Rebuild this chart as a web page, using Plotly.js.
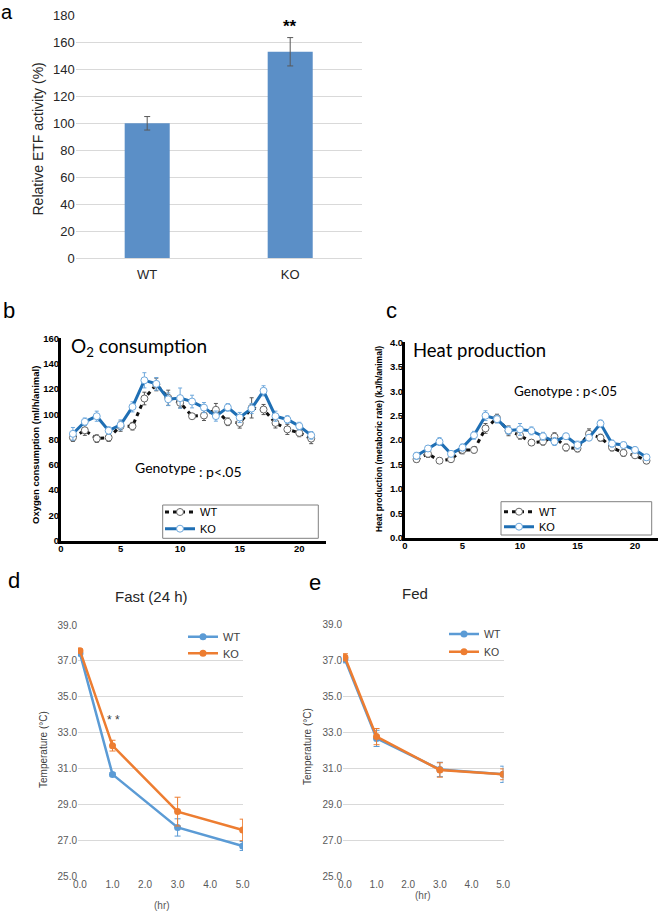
<!DOCTYPE html>
<html>
<head>
<meta charset="utf-8">
<script src="https://cdn.plot.ly/plotly-3.0.1.min.js"></script>
<style>html,body{margin:0;padding:0;background:#fff;}#chart{width:660px;height:912px;}</style>
</head>
<body>
<div id="chart"></div>
<script>
// ---- Panel a data ----
const aCategories = ['WT', 'KO'];
const aValues = [100, 153];
const aErrors = [5, 10.5];

// ---- Panels b & c data (hour index) ----
const hours = [1,2,3,4,5,6,7,8,9,10,11,12,13,14,15,16,17,18,19,20,21];
const bWT = [81.5,87.3,80.7,81.5,90.5,90.5,112.4,123.5,113,109,98.4,99,103.5,94,93,105,103.7,93.1,88,85.2,80.7];
const bWTerr = [3,4,3,3,4,3,5,5,6,4,2,4,5,3,4,8,4,4,4,3,4];
const bKO = [84.5,94,98.4,87,91.5,105.8,126.8,124,111.8,112.7,110,105.2,98.5,105.4,97.4,104.5,118.5,98.4,95.8,90.6,83.3];
const bKOerr = [5,3,4,3,4,4,6,5,5,8,5,4,4,3,4,4,4,4,3,3,3];
const cWT = [1.61,1.72,1.58,1.61,1.80,1.80,2.24,2.45,2.19,2.10,1.95,1.97,2.07,1.85,1.83,2.13,2.05,1.85,1.74,1.69,1.58];
const cWTerr = [0.06,0.07,0.05,0.06,0.08,0.06,0.1,0.08,0.1,0.08,0.06,0.07,0.08,0.07,0.07,0.1,0.07,0.07,0.07,0.05,0.06];
const cKO = [1.68,1.83,1.97,1.72,1.85,2.10,2.50,2.43,2.20,2.22,2.19,2.08,1.97,2.08,1.90,2.05,2.34,1.93,1.90,1.80,1.65];
const cKOerr = [0.07,0.06,0.08,0.06,0.07,0.08,0.1,0.08,0.08,0.12,0.08,0.08,0.08,0.06,0.08,0.06,0.07,0.07,0.06,0.06,0.06];

// ---- Panels d & e data ----
const tHours = [0, 1, 3, 5];
const dWT = [37.42, 30.69, 27.74, 26.71];
const dWTerr = [0.1, 0.1, 0.48, 0.25];
const dKO = [37.57, 32.29, 28.62, 27.6];
const dKOerr = [0.1, 0.3, 0.8, 0.6];
const eWT = [37.06, 32.67, 30.95, 30.68];
const eWTerr = [0.2, 0.45, 0.4, 0.45];
const eKO = [37.17, 32.77, 30.92, 30.68];
const eKOerr = [0.2, 0.45, 0.4, 0.3];

const tempTicks = [25, 27, 29, 31, 33, 35, 37, 39];
const hourTicks = [0, 1, 2, 3, 4, 5];

const W = 660, H = 912;
const X = p => p / W;
const Y = p => 1 - p / H;

const blueXL = '#5b9bd5', orangeXL = '#ed7d31';
const koBlue = '#1f6fb4', koLight = '#6ea8dc';
const arial = 'Liberation Sans, Arial, sans-serif';
const narrow = 'Liberation Sans Narrow, Liberation Sans, Arial, sans-serif';
const lato = 'Lato, Carlito, Open Sans, sans-serif';

const traces = [
  // a
  {type: 'bar', x: aCategories, y: aValues, xaxis: 'x', yaxis: 'y',
   marker: {color: '#5b8fc7'}, showlegend: false, hoverinfo: 'skip',
   error_y: {type: 'data', array: aErrors, visible: true, color: '#595959', thickness: 1, width: 3}},
  // b
  {type: 'scatter', mode: 'lines+markers', name: 'WT', x: hours, y: bWT, xaxis: 'x2', yaxis: 'y2', legend: 'legend',
   line: {color: '#111', width: 3, dash: '4px,4px'},
   marker: {symbol: 'circle', size: 7, color: '#fff', line: {color: '#666', width: 1}},
   error_y: {type: 'data', array: bWTerr, visible: true, color: '#555', thickness: 1, width: 2}},
  {type: 'scatter', mode: 'lines+markers', name: 'KO', x: hours, y: bKO, xaxis: 'x2', yaxis: 'y2', legend: 'legend5',
   line: {color: koBlue, width: 3},
   marker: {symbol: 'circle', size: 7, color: '#fff', line: {color: koLight, width: 1}},
   error_y: {type: 'data', array: bKOerr, visible: true, color: koLight, thickness: 1, width: 2}},
  // c
  {type: 'scatter', mode: 'lines+markers', name: 'WT', x: hours, y: cWT, xaxis: 'x3', yaxis: 'y3', legend: 'legend2',
   line: {color: '#111', width: 3, dash: '4px,4px'},
   marker: {symbol: 'circle', size: 7, color: '#fff', line: {color: '#666', width: 1}},
   error_y: {type: 'data', array: cWTerr, visible: true, color: '#555', thickness: 1, width: 2}},
  {type: 'scatter', mode: 'lines+markers', name: 'KO', x: hours, y: cKO, xaxis: 'x3', yaxis: 'y3', legend: 'legend6',
   line: {color: koBlue, width: 3},
   marker: {symbol: 'circle', size: 7, color: '#fff', line: {color: koLight, width: 1}},
   error_y: {type: 'data', array: cKOerr, visible: true, color: koLight, thickness: 1, width: 2}},
  // d
  {type: 'scatter', mode: 'lines+markers', name: 'WT', x: tHours, y: dWT, xaxis: 'x4', yaxis: 'y4', legend: 'legend3',
   line: {color: blueXL, width: 2.5}, marker: {size: 7, color: blueXL},
   error_y: {type: 'data', array: dWTerr, visible: true, color: blueXL, thickness: 1, width: 3}},
  {type: 'scatter', mode: 'lines+markers', name: 'KO', x: tHours, y: dKO, xaxis: 'x4', yaxis: 'y4', legend: 'legend7',
   line: {color: orangeXL, width: 2.5}, marker: {size: 7, color: orangeXL},
   error_y: {type: 'data', array: dKOerr, visible: true, color: orangeXL, thickness: 1, width: 3}},
  // e
  {type: 'scatter', mode: 'lines+markers', name: 'WT', x: tHours, y: eWT, xaxis: 'x5', yaxis: 'y5', legend: 'legend4',
   line: {color: blueXL, width: 2.5}, marker: {size: 7, color: blueXL},
   error_y: {type: 'data', array: eWTerr, visible: true, color: blueXL, thickness: 1, width: 3}},
  {type: 'scatter', mode: 'lines+markers', name: 'KO', x: tHours, y: eKO, xaxis: 'x5', yaxis: 'y5', legend: 'legend8',
   line: {color: orangeXL, width: 2.5}, marker: {size: 7, color: orangeXL},
   error_y: {type: 'data', array: eKOerr, visible: true, color: orangeXL, thickness: 1, width: 3}}
];

const boldTick = {family: arial, size: 9.5, color: '#000', weight: 'bold'};
const xlTick = {family: arial, size: 10, color: '#595959'};

function leg(xpx, ypx, size, color) {
  return {x: X(xpx), y: Y(ypx), xanchor: 'left', yanchor: 'middle', bgcolor: 'rgba(0,0,0,0)',
          font: {family: arial, size: size, color: color}, itemwidth: 30, tracegroupgap: 0};
}

const layout = {
  width: W, height: H,
  margin: {l: 0, r: 0, t: 0, b: 0},
  paper_bgcolor: '#fff', plot_bgcolor: 'rgba(0,0,0,0)',
  bargap: 0.685,
  showlegend: true,
  // a
  xaxis: {domain: [X(75.7), X(361.7)], anchor: 'y', type: 'category', showgrid: false, zeroline: false,
          showline: true, linecolor: '#d9d9d9', linewidth: 1, ticks: '', ticklabelstandoff: 4,
          tickfont: {family: narrow, size: 13, color: '#262626'}},
  yaxis: {domain: [Y(258.3), Y(15.3)], anchor: 'x', range: [0, 180], dtick: 20, showgrid: true,
          gridcolor: '#d9d9d9', gridwidth: 1, zeroline: false, showline: false, ticks: '',
          tickfont: {family: narrow, size: 13, color: '#262626'}},
  // b
  xaxis2: {domain: [X(61), X(325.5)], anchor: 'y2', range: [0, 22.2], tickvals: [0, 5, 10, 15, 20],
           showgrid: false, zeroline: false, showline: true, linecolor: '#000', linewidth: 3, ticks: '',
           tickfont: boldTick, ticklabelstandoff: -3},
  yaxis2: {domain: [Y(540.7), Y(338.3)], anchor: 'x2', range: [0, 160], dtick: 20, showgrid: false,
           zeroline: false, showline: true, linecolor: '#000', linewidth: 3, ticks: '', tickfont: boldTick,
           ticklabelstandoff: -3},
  // c
  xaxis3: {domain: [X(405), X(658)], anchor: 'y3', range: [0, 22], tickvals: [0, 5, 10, 15, 20],
           showgrid: false, zeroline: false, showline: true, linecolor: '#000', linewidth: 3, ticks: '',
           tickfont: boldTick, ticklabelstandoff: -3},
  yaxis3: {domain: [Y(538), Y(342.3)], anchor: 'x3', range: [0, 4], dtick: 0.5, tickformat: '.1f', showgrid: false,
           zeroline: false, showline: true, linecolor: '#000', linewidth: 3, ticks: '', tickfont: boldTick,
           ticklabelstandoff: -3},
  // d
  xaxis4: {domain: [X(78), X(243)], anchor: 'y4', range: [-0.06, 5.01], tickvals: hourTicks, tickformat: '.1f',
           showgrid: false, zeroline: false, showline: false, ticks: '', tickfont: xlTick},
  yaxis4: {domain: [Y(876.7), Y(625)], anchor: 'x4', range: [25, 39], tickvals: tempTicks, tickformat: '.1f',
           showgrid: true, gridcolor: '#d9d9d9', zeroline: false, showline: false, ticks: '', tickfont: xlTick},
  // e
  xaxis5: {domain: [X(343), X(503.5)], anchor: 'y5', range: [-0.06, 5.01], tickvals: hourTicks, tickformat: '.1f',
           showgrid: false, zeroline: false, showline: false, ticks: '', tickfont: xlTick},
  yaxis5: {domain: [Y(876.7), Y(624.3)], anchor: 'x5', range: [25, 39], tickvals: tempTicks, tickformat: '.1f',
           showgrid: true, gridcolor: '#d9d9d9', zeroline: false, showline: false, ticks: '', tickfont: xlTick},
  legend:  leg(160, 512, 11, '#000'),
  legend5: leg(160, 528.7, 11, '#000'),
  legend2: leg(499, 511.7, 11, '#000'),
  legend6: leg(499, 526.7, 11, '#000'),
  legend3: leg(183, 636.7, 11, '#404040'),
  legend7: leg(183, 653.3, 11, '#404040'),
  legend4: leg(444, 634, 10.5, '#404040'),
  legend8: leg(444, 651.7, 10.5, '#404040'),
  shapes: [
    {type: 'rect', xref: 'paper', yref: 'paper', x0: X(162.7), x1: X(318.3), y0: Y(538.3), y1: Y(505),
     line: {color: '#808080', width: 1}, layer: 'below'},
    {type: 'rect', xref: 'paper', yref: 'paper', x0: X(501), x1: X(651.7), y0: Y(535), y1: Y(501.7),
     line: {color: '#808080', width: 1}, layer: 'below'}
  ],
  annotations: [
    // panel letters
    {text: 'a', x: X(0), y: Y(0), xanchor: 'left', yanchor: 'top', borderpad: 0, font: {family: arial, size: 20, color: '#000'}},
    {text: 'b', x: X(1), y: Y(310), xanchor: 'left', yanchor: 'middle', font: {family: arial, size: 22, color: '#000'}},
    {text: 'c', x: X(384), y: Y(311), xanchor: 'left', yanchor: 'middle', font: {family: arial, size: 22, color: '#000'}},
    {text: 'd', x: X(6), y: Y(580), xanchor: 'left', yanchor: 'middle', font: {family: arial, size: 22, color: '#000'}},
    {text: 'e', x: X(307), y: Y(582), xanchor: 'left', yanchor: 'middle', font: {family: arial, size: 22, color: '#000'}},
    // a
    {text: 'Relative ETF activity (%)', x: X(37.5), y: Y(139), textangle: -90, xanchor: 'center', yanchor: 'middle',
     font: {family: arial, size: 14, color: '#262626'}},
    {text: '**', x: X(290), y: Y(27), xanchor: 'center', yanchor: 'middle', font: {family: arial, size: 17, color: '#000', weight: 'bold'}},
    // b
    {text: 'O<sub>2</sub> consumption', x: X(69), y: Y(347), xanchor: 'left', yanchor: 'middle', font: {family: lato, size: 19, color: '#000'}},
    {text: 'Genotype', x: X(132.5), y: Y(467.5), xanchor: 'left', yanchor: 'middle', font: {family: lato, size: 14, color: '#000'}},
    {text: ': p<.05', x: X(197), y: Y(471.5), xanchor: 'left', yanchor: 'middle', font: {family: lato, size: 14, color: '#000'}},
    {text: 'Oxygen consumption (ml/h/animal)', x: X(35), y: Y(445), textangle: -90, xanchor: 'center', yanchor: 'middle',
     font: {family: arial, size: 9.5, color: '#000', weight: 'bold'}},
    // c
    {text: 'Heat production', x: X(411), y: Y(350), xanchor: 'left', yanchor: 'middle', font: {family: lato, size: 18.5, color: '#000'}},
    {text: 'Genotype : p<.05', x: X(512), y: Y(391), xanchor: 'left', yanchor: 'middle', font: {family: lato, size: 13.5, color: '#000'}},
    {text: 'Heat production (metaboric rate) (kJ/h/animal)', x: X(379), y: Y(439), textangle: -90, xanchor: 'center', yanchor: 'middle',
     font: {family: arial, size: 8.5, color: '#000', weight: 'bold'}},
    // d
    {text: 'Fast (24 h)', x: X(151.7), y: Y(596), xanchor: 'center', yanchor: 'middle', font: {family: arial, size: 15, color: '#262626'}},
    {text: '(hr)', x: X(161.7), y: Y(905), xanchor: 'center', yanchor: 'middle', font: {family: arial, size: 10, color: '#595959'}},
    {text: 'Temperature (°C)', x: X(43), y: Y(750), textangle: -90, xanchor: 'center', yanchor: 'middle', font: {family: arial, size: 10, color: '#404040'}},
    {text: '* *', x: X(113), y: Y(720), xanchor: 'center', yanchor: 'middle', font: {family: arial, size: 12, color: '#404040'}},
    // e
    {text: 'Fed', x: X(414.5), y: Y(593), xanchor: 'center', yanchor: 'middle', font: {family: arial, size: 15, color: '#262626'}},
    {text: '(hr)', x: X(422.5), y: Y(895), xanchor: 'center', yanchor: 'middle', font: {family: arial, size: 10, color: '#595959'}},
    {text: 'Temperature (°C)', x: X(307), y: Y(747), textangle: -90, xanchor: 'center', yanchor: 'middle', font: {family: arial, size: 10, color: '#404040'}}
  ].map(a => Object.assign({xref: 'paper', yref: 'paper', showarrow: false}, a))
};

Plotly.newPlot('chart', traces, layout, {staticPlot: true, displayModeBar: false});
</script>
</body>
</html>
